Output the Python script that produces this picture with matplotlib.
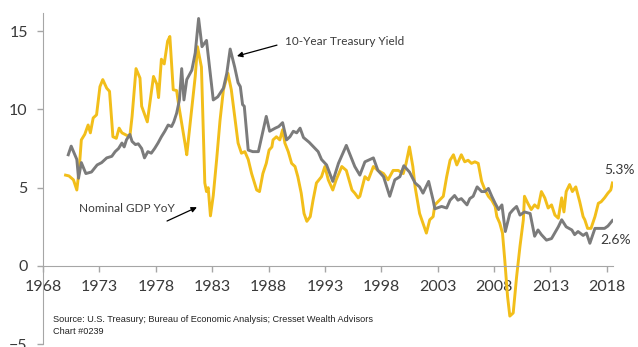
import matplotlib
matplotlib.use("Agg")
import matplotlib.pyplot as plt
import numpy as np

# 10-year treasury yield (%), read at turning points
treasury_t = [1970.24, 1970.5, 1971.0, 1971.15, 1971.4, 1971.8, 1972.3, 1972.8, 1973.2, 1973.65,
              1974.1, 1974.4, 1974.7, 1975.0, 1975.2, 1975.4, 1975.7, 1975.9, 1976.2, 1976.45,
              1976.75, 1977.0, 1977.3, 1977.6, 1977.9, 1978.2, 1978.5, 1978.8, 1979.1, 1979.4,
              1979.6, 1979.85, 1980.1, 1980.3, 1980.5, 1980.75, 1981.2, 1981.5, 1981.8, 1982.1,
              1982.5, 1983.1, 1983.5, 1984.0, 1984.3, 1984.6, 1985.0, 1985.3, 1985.5, 1985.7,
              1985.85, 1986.2, 1986.6, 1987.1, 1987.8, 1988.1, 1988.6, 1988.9, 1989.25, 1989.6,
              1989.9, 1990.2, 1990.5, 1990.8, 1991.1, 1991.6, 1992.4, 1992.7, 1993.15, 1993.7,
              1994.2, 1994.9, 1995.65, 1996.1, 1996.55, 1996.85, 1997.3, 1997.7, 1998.2, 1998.75,
              1999.2, 1999.65, 2000.0, 2000.5, 2001.0, 2001.4, 2001.7, 2002.2, 2002.6, 2002.75,
              2003.35, 2003.8, 2004.1, 2004.5, 2004.8, 2005.1, 2005.6, 2005.85, 2006.15, 2006.5,
              2006.9, 2007.2, 2007.5, 2007.8, 2008.1, 2008.4, 2008.7, 2009.0, 2009.4, 2009.7,
              2010.0, 2010.3, 2010.7, 2011.2, 2011.6, 2011.9, 2012.2, 2012.65, 2013.1, 2013.7,
              2014.0, 2014.4, 2014.9, 2015.15, 2015.45, 2015.9, 2016.2, 2016.5, 2016.95, 2017.4,
              2017.8, 2018.1, 2018.5]
treasury = [7.1, 7.65, 6.8, 5.6, 6.6, 5.9, 6.0, 6.45, 6.6, 6.9,
            7.0, 7.3, 7.5, 7.85, 7.6, 8.05, 8.4, 7.95, 7.75, 7.8,
            7.5, 6.9, 7.3, 7.2, 7.5, 7.85, 8.25, 8.6, 9.0, 8.9,
            9.2, 9.75, 10.6, 12.6, 10.6, 11.9, 12.5, 13.6, 15.8, 14.0,
            14.4, 10.6, 10.8, 11.35, 12.3, 13.85, 12.7, 11.7, 11.45, 10.3,
            10.2, 7.4, 7.3, 7.3, 9.55, 8.6, 8.8, 8.9, 9.15, 8.05,
            8.25, 8.6, 8.5, 8.8, 8.2, 7.9, 7.3, 6.8, 6.45, 5.4,
            6.55, 7.7, 6.35, 5.8, 6.65, 6.75, 6.9, 6.1, 5.7, 4.45,
            5.5, 5.7, 6.4, 6.0, 5.3, 5.05, 4.65, 5.4, 4.2, 3.65,
            3.8, 3.7, 4.2, 4.5, 4.2, 4.3, 3.9, 4.3, 4.45, 5.05,
            4.75, 4.75, 4.95, 4.45, 4.0, 3.6, 3.9, 2.2, 3.35, 3.6,
            3.8, 3.25, 3.45, 3.35, 1.9, 2.3, 2.0, 1.65, 1.75, 2.5,
            2.95, 2.5, 2.3, 2.0, 2.2, 1.95, 2.1, 1.45, 2.4, 2.4,
            2.4, 2.55, 2.9]

# Nominal GDP, year over year change (%)
gdp_t = [1970.0, 1970.3, 1970.7, 1971.0, 1971.2, 1971.4, 1971.7, 1972.0, 1972.2, 1972.45,
         1972.75, 1973.05, 1973.3, 1973.65, 1973.9, 1974.2, 1974.5, 1974.75, 1975.0, 1975.4,
         1975.7, 1975.9, 1976.25, 1976.6, 1976.75, 1977.25, 1977.8, 1978.1, 1978.25, 1978.5,
         1978.75, 1979.05, 1979.25, 1979.55, 1979.85, 1980.05, 1980.6, 1980.75, 1981.5, 1981.7,
         1982.05, 1982.35, 1982.5, 1982.65, 1982.85, 1983.1, 1983.4, 1983.7, 1984.0, 1984.4,
         1984.7, 1985.0, 1985.3, 1985.6, 1985.9, 1986.2, 1986.5, 1986.95, 1987.2, 1987.5,
         1987.8, 1988.05, 1988.3, 1988.4, 1988.7, 1989.0, 1989.25, 1989.45, 1989.75, 1990.05,
         1990.35, 1990.6, 1990.9, 1991.15, 1991.4, 1991.7, 1991.95, 1992.25, 1992.7, 1993.0,
         1993.3, 1993.7, 1994.0, 1994.5, 1994.9, 1995.4, 1995.65, 1995.95, 1996.1, 1996.55,
         1996.85, 1997.3, 1997.7, 1998.2, 1998.6, 1999.05, 1999.5, 1999.95, 2000.2, 2000.5,
         2000.8, 2001.0, 2001.4, 2002.0, 2002.3, 2002.6, 2002.75, 2003.5, 2003.8, 2004.1,
         2004.4, 2004.7, 2005.1, 2005.4, 2005.7, 2006.0, 2006.3, 2006.6, 2006.9, 2007.2,
         2007.5, 2007.8, 2008.1, 2008.25, 2008.5, 2008.75, 2008.95, 2009.2, 2009.4, 2009.7,
         2010.0, 2010.3, 2010.6, 2010.7, 2011.0, 2011.3, 2011.6, 2011.9, 2012.2, 2012.5,
         2012.8, 2013.1, 2013.4, 2013.7, 2014.0, 2014.2, 2014.4, 2014.7, 2014.95, 2015.25,
         2015.6, 2015.9, 2016.05, 2016.3, 2016.6, 2016.95, 2017.25, 2017.5, 2017.8, 2018.1,
         2018.35, 2018.5]
gdp = [5.8, 5.75, 5.5, 4.85, 6.1, 8.05, 8.4, 9.0, 8.5, 9.45,
       9.65, 11.45, 11.9, 11.35, 11.15, 8.25, 8.15, 8.8, 8.5, 8.35,
       8.25, 9.55, 12.6, 12.0, 10.2, 9.2, 12.1, 11.6, 10.75, 13.2,
       12.9, 14.35, 14.65, 11.25, 11.2, 10.2, 7.8, 7.1, 12.1, 14.0,
       12.7, 5.3, 4.75, 5.0, 3.2, 4.5, 6.8, 9.3, 11.25, 12.3,
       11.25, 9.55, 7.85, 7.2, 7.3, 6.8, 5.9, 4.85, 4.75, 5.9,
       6.55, 7.4, 7.6, 8.05, 8.25, 8.05, 8.7, 7.85, 7.3, 6.55,
       6.35, 5.7, 4.65, 3.35, 2.85, 3.15, 4.2, 5.3, 5.7, 6.35,
       5.5, 4.85, 5.5, 6.35, 6.1, 4.85, 4.65, 4.35, 4.45, 5.7,
       5.5, 6.35, 6.1, 5.9, 5.5, 6.1, 6.1, 5.9, 6.55, 7.6,
       6.35, 5.05, 3.35, 2.1, 2.95, 3.15, 3.9, 4.45, 5.7, 6.75,
       7.1, 6.45, 7.1, 6.65, 6.75, 6.55, 6.65, 6.55, 5.4, 4.85,
       4.45, 4.2, 3.8, 3.15, 2.75, 2.1, 0.4, -1.95, -3.2, -3.0,
       -0.7, 1.25, 2.95, 4.45, 4.0, 3.6, 3.9, 3.7, 4.75, 4.35,
       3.7, 3.9, 3.25, 3.05, 4.35, 3.45, 4.75, 5.2, 4.75, 5.05,
       4.1, 3.15, 2.95, 2.4, 2.4, 3.15, 4.0, 4.1, 4.35, 4.65,
       4.85, 5.3]

years = [1968, 1973, 1978, 1983, 1988, 1993, 1998, 2003, 2008, 2013, 2018]
yticks = [-5, 0, 5, 10, 15]

gold = '#F2BE1A'
grey = '#7B7B7B'
axis_grey = '#A6A6A6'
text_col = '#3A3A3A'

plt.rcParams['font.family'] = ['Lato', 'DejaVu Sans']

fig = plt.figure(figsize=(6.38, 3.47), dpi=100)
ax = fig.add_axes([0.0674, 0.0078, 0.8934, 0.9547])

ax.plot(gdp_t, gdp, color=gold, linewidth=2.1, solid_joinstyle='round', zorder=2)
ax.plot(treasury_t, treasury, color=grey, linewidth=2.1, solid_joinstyle='round', zorder=3)

ax.set_xlim(1968, 2018.55)
ax.set_ylim(-5, 16.15)
ax.set_xticks(years)
ax.set_yticks(yticks)
ax.tick_params(axis='both', colors=axis_grey, labelcolor=text_col, labelsize=11.5, length=4, width=1)
ax.tick_params(axis='x', pad=6)
ax.tick_params(axis='y', pad=7)

for s in ['top', 'right']:
    ax.spines[s].set_visible(False)
ax.spines['bottom'].set_position(('data', 0))
ax.spines['bottom'].set_color(axis_grey)
ax.spines['left'].set_color(axis_grey)

arrow = dict(arrowstyle='-|>', color='black', lw=0.9, mutation_scale=8, shrinkA=0, shrinkB=0)

# series labels with pointer arrows
ax.text(1989.45, 14.3, '10-Year Treasury Yield', fontsize=8.5, color=text_col, va='center', ha='left')
ax.annotate('', xy=(1985.2, 13.4), xytext=(1988.75, 14.1), arrowprops=arrow)
ax.text(1975.4, 3.7, 'Nominal GDP YoY', fontsize=8.5, color=text_col, va='center', ha='center')
ax.annotate('', xy=(1981.65, 3.75), xytext=(1979.0, 2.87), arrowprops=arrow)

ax.text(2017.75, 6.1, '5.3%', fontsize=10, color=text_col, ha='left', va='center', clip_on=False)
ax.text(2017.4, 1.65, '2.6%', fontsize=10, color=text_col, ha='left', va='center', clip_on=False)

fig.text(53 / 638, 1 - 320 / 347, 'Source: U.S. Treasury; Bureau of Economic Analysis; Cresset Wealth Advisors',
         fontsize=6.6, family='Liberation Sans', color='#222222', va='center')
fig.text(53 / 638, 1 - 332 / 347, 'Chart #0239', fontsize=6.6, family='Liberation Sans',
         color='#222222', va='center')

fig.savefig('out.png', dpi=100)
